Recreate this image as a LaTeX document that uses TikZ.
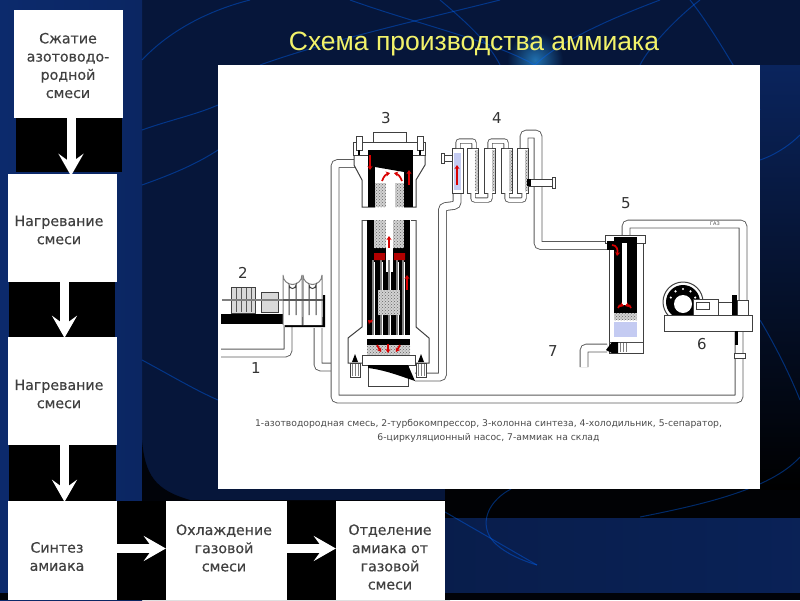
\documentclass[tikz,border=0pt]{standalone}
\usepackage{fontspec}
\setmainfont{DejaVu Sans}
\newfontfamily\titlefont{Liberation Sans}
\newfontfamily\boxfont[FakeBold=0.35]{DejaVu Sans}
\usetikzlibrary{arrows.meta,patterns}
\definecolor{navy}{HTML}{06163A}
\definecolor{sideblue}{HTML}{0C2A6C}
\definecolor{bandblue}{HTML}{0F2F80}
\definecolor{titleyellow}{HTML}{F2F26A}
\definecolor{pipegray}{HTML}{5A5A5A}
\definecolor{liquid}{HTML}{C4CBF2}
\tikzset{
  flowbox/.style={fill=white,minimum width=#1,minimum height=108pt,inner sep=0pt},
  flowbox/.default=109pt,
  flowtext/.style={font=\boxfont\fontsize{14.2}{18.2}\selectfont,align=center,text=black!75,inner sep=0pt},
  flowarrow/.style={white,line width=9pt,-{Stealth[length=22pt,width=25pt,inset=9pt]}},
  band/.style={fill=black},
  streak/.style={draw=blue!60!cyan,opacity=0.4,line width=1pt},
  pipe/.style={draw=pipegray,line width=0.9pt,double=white,double distance=7pt,rounded corners=3pt},
  thinpipe/.style={draw=pipegray,line width=0.9pt,double=white,double distance=3.5pt,rounded corners=2pt},
  outline/.style={draw=black!75,line width=1pt,fill=white},
  hot/.style={draw=red!85!black,line width=1.7pt,-{Stealth[length=4pt,width=5pt]}},
  gravel/.style={fill=gray!35,postaction={pattern=crosshatch dots,pattern color=gray!80!black}},
  tube/.style={draw=gray,line width=1.6pt},
  number/.style={font=\fontsize{15}{15}\selectfont,text=black!80,inner sep=0pt}
}
\begin{document}
\begin{tikzpicture}[x=1pt,y=-1pt]
\useasboundingbox (0,0) rectangle (800,600);
%background
\fill[navy] (0,0) rectangle (800,600);
\shade[left color=sideblue,right color=sideblue!80!navy] (0,0) rectangle (142,600);
\fill[black!85!navy] (142,440) .. controls (145,475) and (155,490) .. (190,500) -- (450,500) -- (450,600) -- (142,600) -- cycle;
\fill[black!92!navy] (445,489) rectangle (800,518);
\shade[left color=sideblue!70!black,middle color=bandblue,right color=sideblue!80!black] (445,518) rectangle (800,593);
\shade[top color=sideblue!70!navy,bottom color=black] (760,65) rectangle (800,489);
\fill[black!85!navy] (0,593) rectangle (800,600);
\shade[inner color=blue!40!cyan!80,outer color=navy,opacity=0.6] (535,60) circle[radius=28];
\draw[streak] (142,60) .. controls (170,30) and (210,10) .. (250,0);
\draw[streak] (260,65) .. controls (330,40) and (420,20) .. (500,0);
\draw[streak] (350,0) .. controls (420,25) and (490,40) .. (535,65);
\draw[streak] (535,65) .. controls (560,40) and (620,15) .. (660,0);
\draw[streak] (440,0) .. controls (470,25) and (490,45) .. (500,65);
\draw[streak] (640,65) .. controls (650,45) and (680,15) .. (700,0);
\draw[streak] (760,110) .. controls (730,60) and (710,25) .. (690,0);
\draw[streak] (760,160) .. controls (775,155) and (790,145) .. (800,135);
\draw[streak] (760,320) .. controls (775,345) and (790,375) .. (800,400);
\draw[streak] (142,130) .. controls (170,120) and (195,115) .. (218,105);
\draw[streak] (142,185) .. controls (170,175) and (195,165) .. (218,150);
\draw[streak] (142,360) .. controls (170,375) and (195,390) .. (218,400);
\draw[streak] (511,489) .. controls (490,500) and (480,520) .. (490,537) .. controls (498,550) and (520,560) .. (537,565);
\draw[streak] (445,512) -- (537,565);
\draw[streak] (800,457) .. controls (770,490) and (700,505) .. (640,517);
%black bands
\fill[band] (16,118) rectangle (122,172);
\fill[band] (9,282) rectangle (115,337);
\fill[band] (9,445) rectangle (116,501);
\fill[band] (117,501) rectangle (166,600);
\fill[band] (287,501) rectangle (336,600);
%flow boxes
\node[flowbox] (compress) at (68,64) {};
\node[flowbox] (heatone) at (62.5,228) {};
\node[flowbox] (heattwo) at (62.5,391) {};
\node[flowbox,minimum height=99pt] (synth) at (62.5,550.5) {};
\node[flowbox=121pt,minimum height=99pt] (cool) at (226.5,550.5) {};
\node[flowbox,minimum height=99pt] (separate) at (390.5,550.5) {};
\node[flowtext] (compresstext) at (68,65.5) {Сжатие\\азотоводо-\\родной\\смеси};
\node[flowtext] (heatonetext) at (59,230) {Нагревание\\смеси};
\node[flowtext] (heattwotext) at (59,394) {Нагревание\\смеси};
\node[flowtext] (synthtext) at (57,556.5) {Синтез\\амиака};
\node[flowtext] (cooltext) at (224,548) {Охлаждение\\газовой\\смеси};
\node[flowtext] (separatetext) at (390,557) {Отделение\\амиака от\\газовой\\смеси};
\draw[flowarrow] ([xshift=3pt]compress.south) -- ([xshift=3pt,yshift=-2pt]compress.south |- heatone.north);
\draw[flowarrow] ([xshift=2pt]heatone.south) -- ([xshift=2pt,yshift=-1pt]heatone.south |- heattwo.north);
\draw[flowarrow] ([xshift=2pt]heattwo.south) -- ([xshift=2pt,yshift=-1pt]heattwo.south |- synth.north);
\draw[flowarrow] ([yshift=2pt]synth.east) -- ([yshift=2pt]cool.west);
\draw[flowarrow] ([yshift=2pt]cool.east) -- ([yshift=2pt]separate.west);
%title and panel
\node[font=\titlefont\fontsize{26.5}{28}\selectfont,text=titleyellow,inner sep=0pt] (title) at (474,44) {Схема производства аммиака};
\fill[white] (218,65) rectangle (760,489);
%pipes
\draw[pipe] (221,353) -- (288,353) -- (288,325);
\draw[pipe] (318,328) -- (318,367) -- (331,367);
\draw[pipe] (355,163.5) -- (335,163.5) -- (335,399) -- (739,399) -- (739,332);
\draw[pipe] (415,377) -- (442.5,377) -- (442.5,207) -- (457,205) -- (457,194);
\draw[pipe] (524,149) -- (524,134) -- (538,134) -- (538,245.5) -- (608,245.5);
\draw[pipe] (626,238) -- (626,224) -- (743,224) -- (743,302);
\draw[pipe] (607,348) -- (584,348) -- (584,367);
%compressor
\fill[black] (221,314) rectangle (285,324);
\fill[black] (285,317) -- (323,317) -- (323,295) -- (325,295) -- (325,327) -- (285,327) -- cycle;
\draw[outline,fill=gray!30] (231,287) rectangle (255,313);
\draw[outline,fill=gray!30] (261,292) rectangle (278,312);
\foreach \x in {236,241,246,251} \draw[gray!70!black] (\x,288) -- (\x,312);
\draw[gray,line width=1.5pt] (222,300) -- (323,300);
\foreach \x in {283,303}
\draw[outline,draw=gray,fill=white] (\x,325) -- (\x,275) arc[start angle=180,end angle=0,radius=9.5] -- (\x+19,325);
\foreach \x in {289,309}
\draw[outline] (\x,315) -- (\x,285) arc[start angle=180,end angle=0,radius=3.5] -- (\x+7,315);
\draw[gray!70!black,line width=1.8pt] (283,300) -- (323,300);
%column top
\draw[outline] (354,155) -- (354,165) -- (362,180) -- (362,207) -- (416,207) -- (416,180) -- (425,165) -- (425,155) -- cycle;
\draw[outline] (373,132) rectangle (406,142);
\draw[outline] (353,142) rectangle (425,155);
\fill[black] (368,150) rectangle (413,207);
\fill[white] (375,167) rectangle (404,208);
\fill[black] (375,167) -- (404,172) -- (404,167) -- cycle;
\fill[gravel] (375,183) rectangle (404,207);
\fill[white] (386,177) rectangle (395,208);
\draw[hot] (382,181) .. controls (384,176) and (386,174) .. (390,173);
\draw[hot] (402,181) .. controls (400,176) and (398,174) .. (394,173);
\draw[hot] (370,155) -- (370,170);
\draw[hot] (409,185) -- (409,170);
%column body
\draw[outline] (362,220) -- (362,327) -- (348,338) -- (348,363) -- (429,363) -- (429,338) -- (416,327) -- (416,220);
\draw[black!70] (362,220) -- (367,220) (411,220) -- (416,220);
\fill[black] (367,220) rectangle (410,335);
\fill[gravel] (374,220) rectangle (404,248);
\fill[white] (386,220) rectangle (393,272);
\foreach \x in {374,382,390,398,404} \draw[tube,white] (\x,262) -- (\x,335);
\foreach \x in {374,382,390,398,404} \draw[tube] (\x-1,260) -- (\x-1,335);
\fill[gravel] (378,290) rectangle (400,315);
\draw[hot] (389,248) -- (389,236);
\fill[red!70!black] (374,253) rectangle (385,260) (394,253) rectangle (405,260);
\draw[hot] (407,290) -- (407,275);
\draw[hot] (372,320) .. controls (372,322) and (370,322) .. (368,320);
\fill[black] (367,339) rectangle (410,357);
\fill[gravel] (367,345) rectangle (410,357);
\draw[hot] (377,345) -- (381,352);
\draw[hot] (388,344) -- (388,353);
\draw[hot] (400,345) -- (396,352);
%column bottom
\draw[outline] (362,355) rectangle (415,365);
\foreach \x in {350,416} {
\draw[outline] (\x,363) rectangle (\x+10,377);
\foreach \k in {2,5,8} \draw[gray] (\x+\k,364) -- (\x+\k,376);
\fill[black] (\x+5,354) -- (\x+8,362) -- (\x+2,362) -- cycle;
}
\draw[outline] (368,365) rectangle (408,386);
\fill[black] (368,365) -- (408,365) -- (415,381) .. controls (400,376) and (385,370) .. (368,368) -- cycle;
%top flange bolts
\foreach \x in {356,417} {
\draw[outline] (\x,136) rectangle (\x+6,150);
\fill[black] (\x+2,150) rectangle (\x+4,155);
}
%cooler
\foreach \x in {467,484,501,517} {
\draw[outline] (\x,148) rectangle (\x+11,193);
\fill[gravel] (\x+8,150) rectangle (\x+11,191);
}
\draw[outline] (452,148) rectangle (463,193);
\fill[liquid] (454,153) rectangle (461,190);
\draw[hot] (457,185) -- (457,165);
\draw[outline] (441,153) rectangle (444,163);
\draw[outline] (444,155) rectangle (452,161);
\foreach \x in {458,490} \draw[thinpipe] (\x,148) -- (\x,141) -- (\x+16,141) -- (\x+16,148);
\foreach \x in {473,507} \draw[thinpipe] (\x,193) -- (\x,200) -- (\x+17,200) -- (\x+17,193);
\draw[outline] (528,179) rectangle (552,186);
\draw[outline] (552,177) rectangle (555,188);
\fill[black] (527,179) rectangle (531,186);
%separator
\draw[outline] (609,237) rectangle (643,353);
\draw[outline] (605,235) rectangle (645,243);
\fill[black] (614,237) rectangle (637,313);
\fill[white] (622,243) rectangle (627,305);
\fill[black] (607,241) rectangle (614,250);
\fill[black] (622,237) rectangle (627,241);
\draw[hot] (612,245) .. controls (617,245) and (618,250) .. (617,256);
\draw[hot] (618,308) .. controls (618,305) and (621,305) .. (624,306);
\draw[hot] (631,308) .. controls (631,305) and (628,305) .. (625,306);
\fill[gravel] (614,313) rectangle (637,320);
\fill[liquid] (614,322) rectangle (637,337);
\draw[black!70] (609,342) -- (643,342);
\fill[black] (606,350) -- (612,342) -- (618,342) -- (618,353) -- (612,353) -- cycle;
\foreach \x in {620,623,626} \draw[gray] (\x,343) -- (\x,352);
%pump
\draw[outline] (683,302) circle[radius=20];
\fill[black] (683,302) circle[radius=17];
\fill[white] (683,304) circle[radius=9];
\foreach \a in {200,235,270,305,340} \fill[white] (683,302) ++(\a:13) circle[radius=1.2];
\draw[outline] (664,315) rectangle (752,331);
\draw[outline] (693,299) rectangle (718,315);
\draw[outline] (696,302) rectangle (709,309);
\draw[outline] (718,302) rectangle (732,315);
\fill[black] (732,295) rectangle (737,315);
\draw[outline] (737,300) rectangle (748,315);
\fill[black] (735,331) rectangle (738,345);
\draw[outline] (734,353) rectangle (745,358);
%numbers
\node[number] (n3) at (386,118) {3};
\node[number] (n4) at (497,118) {4};
\node[number] (n5) at (626,203) {5};
\node[number] (n2) at (243,273) {2};
\node[number] (n1) at (256,368) {1};
\node[number] (n7) at (553,351) {7};
\node[number] (n6) at (702,344) {6};
\node[font=\fontsize{5}{5}\selectfont,text=black!70,inner sep=0pt] (gas) at (715,224) {ГАЗ};
\node[font=\fontsize{9.25}{13.5}\selectfont,align=center,text=black!70,inner sep=0pt] (caption) at (488.5,431) {1-азотводородная смесь, 2-турбокомпрессор, 3-колонна синтеза, 4-холодильник, 5-сепаратор,\\6-циркуляционный насос, 7-аммиак на склад};
\end{tikzpicture}
\end{document}
